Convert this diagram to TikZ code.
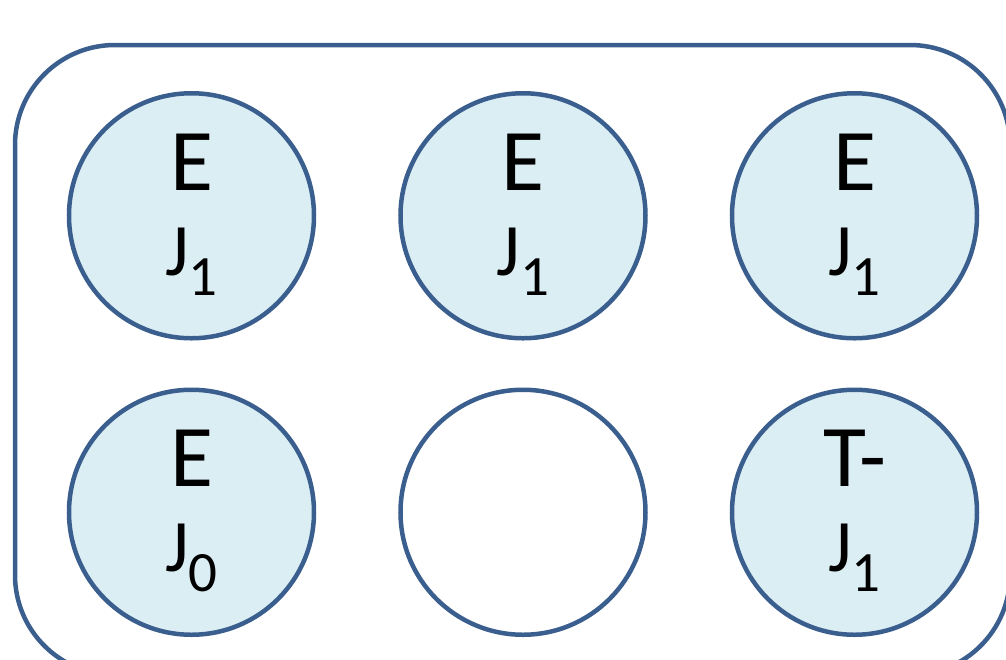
\documentclass[tikz,border=0pt]{standalone}
\usepackage{fontspec}
\setmainfont{Carlito}
\usepackage{tikz}
\usetikzlibrary{matrix}
\definecolor{rim}{HTML}{3A5F8E}
\definecolor{cup}{HTML}{DBEEF4}
\newcommand{\jsub}[1]{{\fontsize{74}{85}\selectfont J\raisebox{-20pt}{\fontsize{57}{57}\selectfont #1}}}
\newcommand{\well}[2]{\begin{tabular}{@{}c@{}}#1\\\jsub{#2}\end{tabular}}

\begin{document}
\begin{tikzpicture}[x=1pt, y=-1pt,
		frame/.style={draw=rim, line width=4.5pt, rounded corners=100pt},
		cell/.style={circle, draw=rim, line width=4.5pt, fill=cup, minimum size=245pt, inner sep=0pt, anchor=center, font=\fontsize{88}{85}\selectfont},
		hole/.style={fill=white}]
		\useasboundingbox (0,0) rectangle (1006,659);
		\clip (0,0) rectangle (1006,659);
		\draw[frame] (15,45) rectangle (1010,675);
		\matrix (mx) at (523,364) [%
			matrix of nodes,
			nodes = cell,
			row sep = 47pt,
			column sep = 82pt,
			ampersand replacement=\&
		] {
			\well{E}{1} \& \well{E}{1} \& \well{E}{1} \\
			\well{E}{0} \& |[hole]| {} \& \well{T-}{1} \\
		};
	\end{tikzpicture}
\end{document}
